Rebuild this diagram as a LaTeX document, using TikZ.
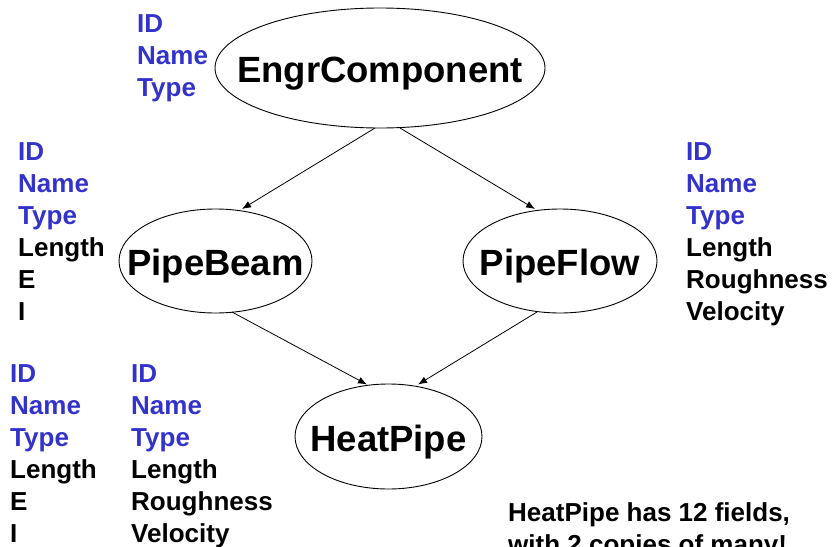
\documentclass[tikz,border=0pt]{standalone}
\usepackage{fontspec}
\setmainfont{Liberation Sans}
\usetikzlibrary{shapes.geometric,arrows.meta}
\definecolor{fblue}{RGB}{51,51,204}
\tikzset{
  cls/.style={ellipse, draw=black, line width=0.9pt, inner sep=0pt, outer sep=0pt},
  clslabel/.style={inner sep=0pt, font=\fontsize{36.5}{40}\selectfont\bfseries, text height=26pt, text depth=0pt},
  field/.style={anchor=base west, inner sep=0pt, font=\fontsize{26}{32}\selectfont\bfseries},
  link/.style={line width=0.8pt, -{Latex[length=9pt,width=7pt]}},
  note/.style={anchor=base west, inner sep=0pt, align=left, font=\fontsize{26}{32}\selectfont\bfseries}
}
\begin{document}
\begin{tikzpicture}[x=1pt,y=-1pt]
\useasboundingbox (0,0) rectangle (835,546);
\clip (0,0) rectangle (835,546);
\node[cls, minimum width=330pt, minimum height=120pt] (ec) at (380,68) {};
\node[clslabel] (ecl) at ([yshift=-1.5pt]ec.center) {EngrComponent};
\node[cls, minimum width=193pt, minimum height=104pt] (pb) at (215.5,261) {};
\node[clslabel] (pbl) at ([yshift=-1.5pt]pb.center) {PipeBeam};
\node[cls, minimum width=194pt, minimum height=104pt] (pf) at (560,261) {};
\node[clslabel] (pfl) at ([yshift=-1.5pt]pf.center) {PipeFlow};
\node[cls, minimum width=187pt, minimum height=105pt] (hp) at (388.5,436.5) {};
\node[clslabel] (hpl) at ([yshift=-1.5pt]hp.center) {HeatPipe};
% connectors
\coordinate (ec1) at (375,128);
\coordinate (ec2) at (400,128);
\coordinate (pbt) at (242,209);
\coordinate (pft) at (535,209);
\draw[link] (ec1) -- (pbt);
\draw[link] (ec2) -- (pft);
\coordinate (pb1) at (232,312);
\coordinate (pf1) at (537,312);
\coordinate (hpt1) at (367,384.5);
\coordinate (hpt2) at (418,384.5);
\draw[link] (pb1) -- (hpt1);
\draw[link] (pf1) -- (hpt2);
% field lists
\foreach \t/\c [count=\i from 0] in {ID/fblue,Name/fblue,Type/fblue}
  \node[field, text=\c] (tl\i) at ({137},{32+\i*32}) {\t};
\foreach \t/\c [count=\i from 0] in {ID/fblue,Name/fblue,Type/fblue,Length/black,E/black,I/black}
  \node[field, text=\c] (l\i) at ({18},{160+\i*32}) {\t};
\foreach \t/\c [count=\i from 0] in {ID/fblue,Name/fblue,Type/fblue,Length/black,Roughness/black,Velocity/black}
  \node[field, text=\c] (r\i) at ({686},{160+\i*32}) {\t};
\foreach \t/\c [count=\i from 0] in {ID/fblue,Name/fblue,Type/fblue,Length/black,E/black,I/black}
  \node[field, text=\c] (ba\i) at ({10},{382+\i*32}) {\t};
\foreach \t/\c [count=\i from 0] in {ID/fblue,Name/fblue,Type/fblue,Length/black,Roughness/black,Velocity/black}
  \node[field, text=\c] (bb\i) at ({131},{382+\i*32}) {\t};
\node[note] (n1) at (508,521) {HeatPipe has 12 fields,};
\node[note] (n2) at (508,553) {with 2 copies of many!};
\end{tikzpicture}
\end{document}
